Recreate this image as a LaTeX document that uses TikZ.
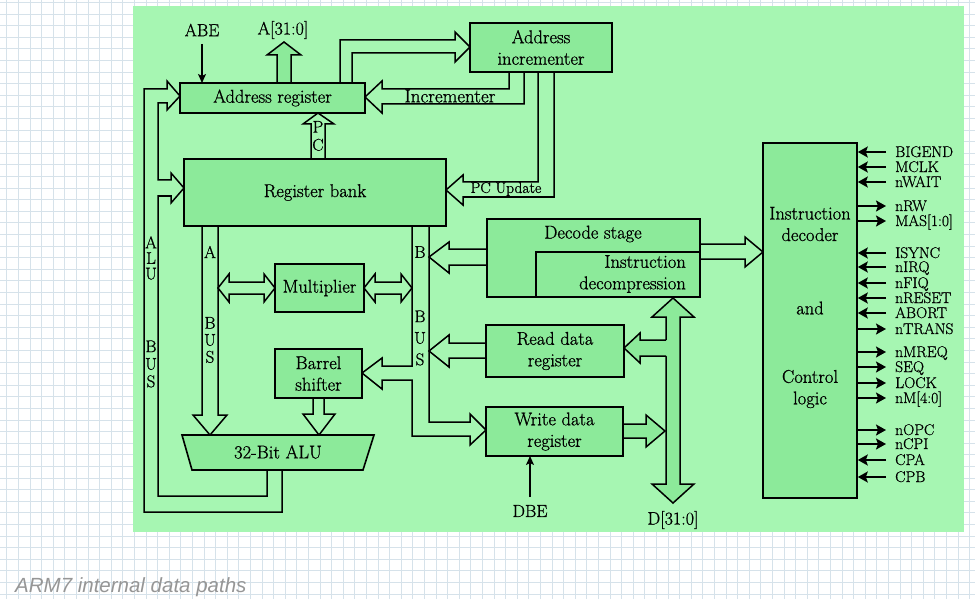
\documentclass[tikz,border=0pt]{standalone}
\usepackage{fontspec}
\newfontfamily\capfont{Liberation Sans}
\newfontfamily\dfont{Latin Modern Roman}[FakeBold=0.9]
\usetikzlibrary{arrows.meta}
\definecolor{panel}{RGB}{166,246,178}
\definecolor{boxg}{RGB}{140,234,154}
\definecolor{gridc}{RGB}{214,226,234}
\definecolor{capc}{RGB}{150,150,150}
\tikzset{
  blk/.style={draw=black, line width=1.6pt, fill=boxg, inner sep=0pt, align=center,
              font=\dfont\fontsize{18.5}{21.5}\selectfont},
  ln/.style={line width=1.5pt, line join=miter, miter limit=10},
  txt/.style={inner sep=0pt, align=center, font=\dfont\fontsize{18.5}{21.5}\selectfont},
  smalltxt/.style={inner sep=0pt, font=\dfont\fontsize{15.5}{18}\selectfont},
  sigtxt/.style={inner sep=0pt, anchor=base west, font=\dfont\fontsize{15.5}{17}\selectfont},
  sig/.style={line width=1.8pt, -{Stealth[length=10pt,width=11pt,inset=2pt]}},
  thinarr/.style={line width=1.3pt, -{Stealth[length=9pt,width=8pt,inset=2pt]}},
}
\begin{document}
\begin{tikzpicture}[x=1pt,y=-1pt]
\useasboundingbox (0,0) rectangle (975,599);
\fill[white] (0,0) rectangle (975,599);
\foreach \i in {0,...,83} \draw[gridc,line width=0.7pt] ({6.7+11.6*\i},0) -- ({6.7+11.6*\i},599);
\foreach \j in {0,...,51} \draw[gridc,line width=0.7pt] (0,{2.4+11.6*\j}) -- (975,{2.4+11.6*\j});
\fill[panel] (133,6) rectangle (964,532);

% ---------- connectors (drawn below boxes) ----------
% A[31:0] output
\draw[ln, fill=boxg] (277,83) -- (277,55) -- (267,55) -- (284,42) -- (301,55) -- (291,55) -- (291,83);
\node[txt, font=\dfont\fontsize{18}{21}\selectfont] (alab) at (283,30) {A[31:0]};
% ABE
\node[txt, font=\dfont\fontsize{17.5}{21}\selectfont] (abe) at (202,30) {ABE};
\draw[thinarr] (abe.south |- 0,44) -- (202,83);
% Address register -> Address incrementer
\draw[ln] (340,83) -- (340,40) -- (455,40) -- (455,32) -- (470,47) -- (455,62) -- (455,53) -- (352,53) -- (352,83);
% Incrementer
\draw[ln] (509,72) -- (509,89) -- (382,89) -- (382,81) -- (365,97) -- (382,113) -- (382,104) -- (524,104) -- (524,72);
\node[txt, font=\dfont\fontsize{19}{21}\selectfont] (inclab) at (450,96) {Incrementer};
% PC Update
\draw[ln] (538,72) -- (538,182) -- (463,182) -- (463,175) -- (446,190) -- (463,205) -- (463,197) -- (554,197) -- (554,72);
\node[smalltxt] (pcu) at (506,189) {PC Update};
% PC
\draw[ln] (311,159) -- (311,124) -- (303,124) -- (318,113) -- (334,124) -- (325,124) -- (325,159);
\node[txt, font=\dfont\fontsize{17}{18}\selectfont] (pclab) at (318,136) {P\\C};
% ALU bus loop
\draw[ln] (282,470) -- (282,512) -- (144,512) -- (144,89) -- (167,89) -- (167,81) -- (180,96)
  -- (167,110) -- (167,103) -- (158,103) -- (158,180) -- (171,180) -- (171,173) -- (184,188)
  -- (171,203) -- (171,196) -- (158,196) -- (158,496) -- (267,496) -- (267,470);
\node[txt, font=\dfont\fontsize{17}{15.5}\selectfont] (alul1) at (151,258) {A\\L\\U};
\node[txt, font=\dfont\fontsize{17}{17.5}\selectfont] (alul2) at (151,364) {B\\U\\S};
% A bus
\draw[ln] (202,226) -- (202,415) -- (193,415) -- (210,435) -- (227,415) -- (218,415) -- (218,226);
\node[txt, font=\dfont\fontsize{17}{17}\selectfont] (abl1) at (210,252) {A};
\node[txt, font=\dfont\fontsize{17}{17}\selectfont] (abl2) at (210,340) {B\\U\\S};
% Multiplier double arrows
\draw[ln] (218,288) -- (229,274) -- (229,282) -- (264,282) -- (264,274) -- (275,288) -- (264,302) -- (264,294) -- (229,294) -- (229,302) -- cycle;
\draw[ln] (364,288) -- (375,274) -- (375,282) -- (401,282) -- (401,274) -- (412,288) -- (401,302) -- (401,294) -- (375,294) -- (375,302) -- cycle;
% Barrel shifter -> ALU
\draw[ln] (313,398) -- (313,414) -- (303,414) -- (319,435) -- (335,414) -- (324,414) -- (324,398);
% B bus, barrel input, write data input
\draw[ln] (412,226) -- (412,366) -- (382,366) -- (382,358) -- (362,373) -- (382,389) -- (382,380)
  -- (412,380) -- (412,436) -- (470,436) -- (470,445) -- (486,430) -- (470,414) -- (470,422)
  -- (429,422) -- (429,226);
\node[txt, font=\dfont\fontsize{17}{21}\selectfont] (bbl1) at (420,252) {B};
\node[txt, font=\dfont\fontsize{17}{21.5}\selectfont] (bbl2) at (420,338) {B\\U\\S};
% Decode -> B bus
\draw[ln] (487,249) -- (449,249) -- (449,242) -- (429,257) -- (449,273) -- (449,265) -- (487,265);
% Read data -> B bus
\draw[ln] (486,343) -- (449,343) -- (449,335) -- (429,351) -- (449,367) -- (449,358) -- (486,358);
% D bus
\draw[ln, fill=boxg] (666,317) -- (652,317) -- (673,298) -- (694,317) -- (680,317) -- (680,484)
  -- (694,484) -- (673,503) -- (652,484) -- (666,484) -- cycle;
\node[txt, font=\dfont\fontsize{18}{21}\selectfont] (dlab) at (673,520) {D[31:0]};
% D bus -> read data
\fill[boxg] (624,348) -- (640,333) -- (640,340) -- (667.5,340) -- (667.5,356) -- (640,356) -- (640,363) -- cycle;
\draw[ln] (666,340) -- (640,340) -- (640,333) -- (624,348) -- (640,363) -- (640,356) -- (666,356);
% Write data -> D bus
\draw[ln, fill=boxg] (623,424) -- (646,424) -- (646,415) -- (665,431) -- (646,447) -- (646,438) -- (623,438);
% DBE
\node[txt, font=\dfont\fontsize{17.5}{21}\selectfont] (dbe) at (530,511) {DBE};
\draw[thinarr] (530,497) -- (530,456);
% Decode -> Instruction decoder
\draw[ln] (700,244) -- (745,244) -- (745,237) -- (763,252) -- (745,267) -- (745,259) -- (700,259);

% ---------- boxes ----------
\node[blk, minimum width=185pt, minimum height=30pt] (ar) at (272.5,98) {Address register};
\node[blk, minimum width=142pt, minimum height=49pt] (ai) at (541,47.5) {Address\\incrementer};
\node[blk, minimum width=262pt, minimum height=67pt] (rb) at (315,192.5) {Register bank};
\node[blk, minimum width=89pt, minimum height=48pt] (mul) at (319.5,288) {Multiplier};
\node[blk, minimum width=87pt, minimum height=49pt] (bs) at (318.5,373.5) {Barrel\\shifter};
\draw[line width=1.6pt, fill=boxg] (182,435) -- (374,435) -- (363,470) -- (192,470) -- cycle;
\node[txt] (alu) at (278,452) {32-Bit ALU};
\node[blk, minimum width=213pt, minimum height=78pt] (ds) at (593.5,258) {};
\node[blk, minimum width=164pt, minimum height=45pt] (idc) at (618,274.5) {};
\node[txt] (dslab) at (593,234) {Decode stage};
\node[txt, align=right, anchor=east] (idclab) at (686,274) {Instruction\\decompression};
\node[blk, minimum width=138pt, minimum height=52pt] (rd) at (555,351) {Read data\\register};
\node[blk, minimum width=137pt, minimum height=49pt] (wd) at (554.5,431.5) {Write data\\register};
\node[blk, minimum width=94pt, minimum height=355pt] (dec) at (810,320.5) {};
\node[txt] (decl1) at (810,224) {Instruction\\decoder};
\node[txt] (decl2) at (810,308) {and};
\node[txt] (decl3) at (810,389) {Control\\logic};

% ---------- control signals ----------
\foreach \y/\t in {152/BIGEND,167/MCLK,182/nWAIT,253/ISYNC,267/nIRQ,283/nFIQ,298/nRESET,313/ABORT,460/CPA,477/CPB}{
  \draw[sig] (886,\y) -- (dec.east |- 0,\y);
  \node[sigtxt] at (895,\y+5) {\t};
}
\foreach \y/\t in {206/nRW,221/{MAS[1:0]},329/nTRANS,352/nMREQ,367/SEQ,383/LOCK,398/{nM[4:0]},430/nOPC,444/nCPI}{
  \draw[sig] (dec.east |- 0,\y) -- (886,\y);
  \node[sigtxt] at (895,\y+5) {\t};
}

% caption
\node[anchor=base west, text=capc, inner sep=0pt, font=\capfont\itshape\fontsize{20.5}{24}\selectfont] (cap) at (15,592) {ARM7 internal data paths};
\end{tikzpicture}
\end{document}
